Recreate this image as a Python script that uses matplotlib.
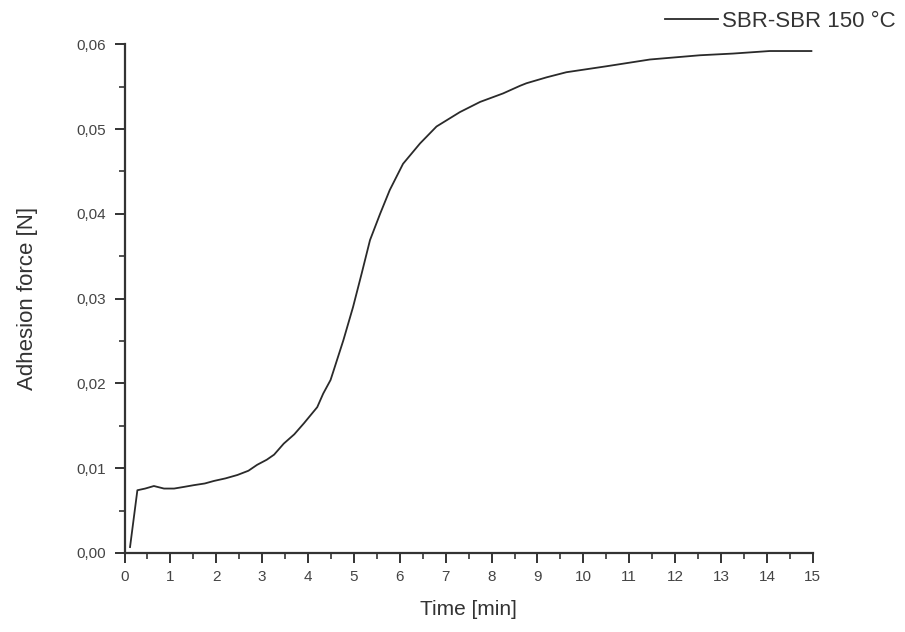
import matplotlib
matplotlib.use("Agg")
import matplotlib.pyplot as plt
from matplotlib.ticker import MultipleLocator, FuncFormatter

plt.rcParams["font.family"] = ["Liberation Sans", "DejaVu Sans"]

# curve
time_min = [0.12, 0.28, 0.45, 0.64, 0.86, 1.08, 1.3, 1.51, 1.75, 1.95, 2.2,
            2.46, 2.7, 2.89, 3.1, 3.26, 3.47, 3.7, 3.91, 4.2, 4.33, 4.49,
            4.55, 4.77, 4.98, 5.17, 5.35, 5.57, 5.78, 6.07, 6.44, 6.8, 7.31,
            7.75, 8.25, 8.62, 8.76, 9.2, 9.63, 10.5, 11.45, 12.54, 13.26,
            14.06, 14.97]
force_n = [0.0007, 0.0074, 0.0076, 0.0079, 0.0076, 0.0076, 0.0078, 0.0080,
           0.0082, 0.0085, 0.0088, 0.0092, 0.0097, 0.0104, 0.0110, 0.0116,
           0.0129, 0.0140, 0.0153, 0.0172, 0.0188, 0.0204, 0.0214, 0.0251,
           0.0290, 0.0330, 0.0369, 0.0400, 0.0428, 0.0459, 0.0483, 0.0503,
           0.0520, 0.0532, 0.0542, 0.0551, 0.0554, 0.0561, 0.0567, 0.0574,
           0.0582, 0.0587, 0.0589, 0.0592, 0.0592]

fig = plt.figure(figsize=(9.05, 6.32), dpi=100)
ax = fig.add_axes([0.1376, 0.125, 0.7605, 0.805])

ax.plot(time_min, force_n, color="#2a2a2a", lw=1.3, label="SBR-SBR 150 °C")

ax.set_xlim(0, 15)
ax.set_ylim(0, 0.06)
ax.xaxis.set_major_locator(MultipleLocator(1))
ax.xaxis.set_minor_locator(MultipleLocator(0.5))
ax.yaxis.set_major_locator(MultipleLocator(0.01))
ax.yaxis.set_minor_locator(MultipleLocator(0.005))
ax.yaxis.set_major_formatter(FuncFormatter(lambda v, p: f"{v:.2f}".replace(".", ",")))

for s in ["top", "right"]:
    ax.spines[s].set_visible(False)
for s in ["left", "bottom"]:
    ax.spines[s].set_linewidth(1.6)
    ax.spines[s].set_color("#333333")

ax.tick_params(which="major", direction="out", length=7, width=1.4,
               colors="#333333", labelsize=11, labelcolor="#444444")
ax.tick_params(which="minor", direction="out", length=4, width=1.2, colors="#333333")
ax.tick_params(axis="x", pad=5)
ax.tick_params(axis="y", pad=6)

ax.set_xlabel("Time [min]", fontsize=15, color="#333333", labelpad=12)
ax.set_ylabel("Adhesion force [N]", fontsize=16, color="#333333", labelpad=28)

ax.legend(loc="upper right", bbox_to_anchor=(1.15, 1.105), frameon=False,
          fontsize=16, handlelength=2.4, handletextpad=0.2,
          labelcolor="#333333")

fig.savefig("out.png", dpi=100)
